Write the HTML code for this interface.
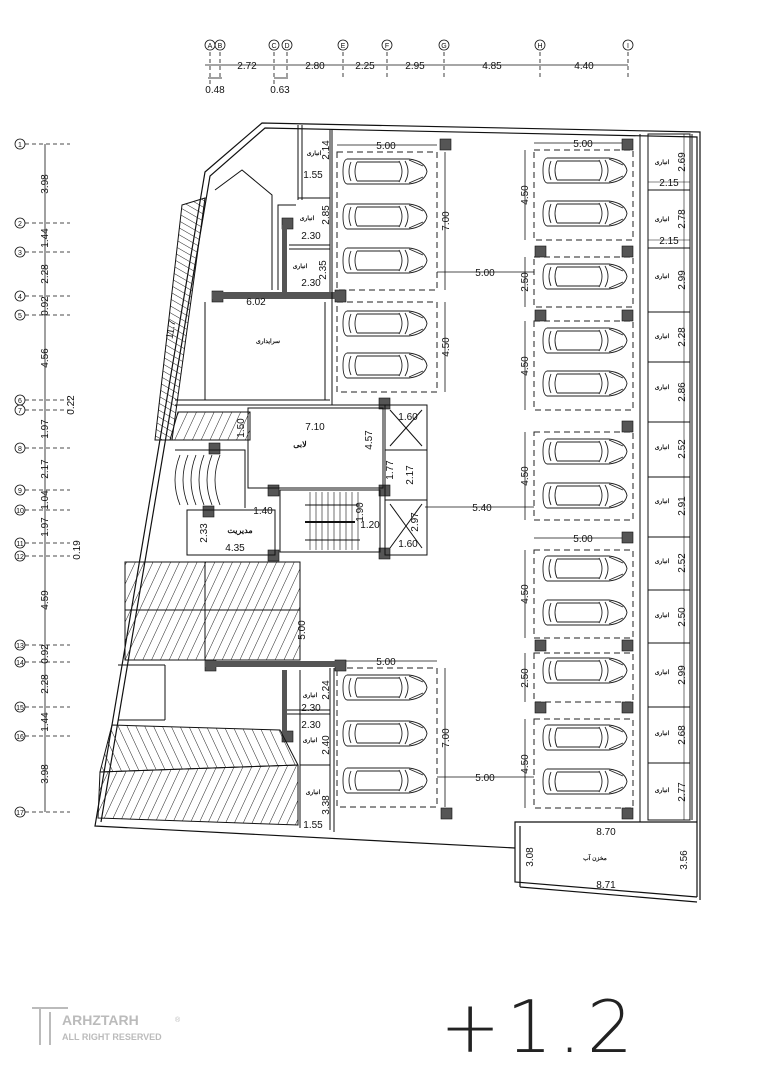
<!DOCTYPE html>
<html><head><meta charset="utf-8"><style>
html,body{margin:0;padding:0;background:#fff;}
svg{display:block;font-family:"Liberation Sans",sans-serif;}
.t{font-size:10px;fill:#111;}
.s{font-size:6px;fill:#111;font-family:"Liberation Sans","Noto Sans CJK SC",sans-serif;font-weight:bold;}
</style></head><body>
<svg width="764" height="1080" viewBox="0 0 764 1080" xmlns="http://www.w3.org/2000/svg">
<defs>
<g id="car" fill="none" stroke="#222" stroke-width="0.9">
<path d="M4,1 H66 Q82,3 84,13.5 Q82,24 66,26 H4 Q0,25 0,13.5 Q0,2 4,1Z"/>
<path d="M8,4 Q4,13.5 8,23 M14,4 Q10,13.5 14,23 M56,3 Q62,13.5 56,24 M62,3 Q68,13.5 62,24 M14,4 H56 M14,23 H56 M66,2 L80,8 M66,25 L80,19"/>
</g>
<pattern id="h1" width="8" height="8" patternUnits="userSpaceOnUse" patternTransform="rotate(25)"><line x1="0" y1="0" x2="0" y2="8" stroke="#222" stroke-width="1"/></pattern>
<pattern id="h2" width="8" height="8" patternUnits="userSpaceOnUse" patternTransform="rotate(-25)"><line x1="0" y1="0" x2="0" y2="8" stroke="#222" stroke-width="1"/></pattern>
<pattern id="h3" width="6" height="6" patternUnits="userSpaceOnUse" patternTransform="rotate(-60)"><line x1="0" y1="0" x2="0" y2="6" stroke="#222" stroke-width="1"/></pattern>
</defs>

<!-- top axes -->
<g stroke="#111" stroke-width="0.8" fill="none">
<line x1="205" y1="65" x2="628" y2="65"/>
<line x1="208" y1="78" x2="222" y2="78"/><line x1="274" y1="78" x2="288" y2="78"/>
<g stroke-dasharray="4,3">
<line x1="210" y1="52" x2="210" y2="85"/><line x1="220" y1="52" x2="220" y2="80"/>
<line x1="274" y1="52" x2="274" y2="85"/><line x1="287" y1="52" x2="287" y2="80"/>
<line x1="343" y1="52" x2="343" y2="80"/><line x1="387" y1="52" x2="387" y2="80"/>
<line x1="444" y1="52" x2="444" y2="80"/><line x1="540" y1="52" x2="540" y2="80"/>
<line x1="628" y1="52" x2="628" y2="80"/>
</g>
<circle cx="210" cy="45" r="5"/><circle cx="220" cy="45" r="5"/><circle cx="274" cy="45" r="5"/><circle cx="287" cy="45" r="5"/>
<circle cx="343" cy="45" r="5"/><circle cx="387" cy="45" r="5"/><circle cx="444" cy="45" r="5"/><circle cx="540" cy="45" r="5"/><circle cx="628" cy="45" r="5"/>
</g>
<g class="t" text-anchor="middle" style="font-size:7px">
<text x="210" y="48">A</text><text x="220" y="48">B</text><text x="274" y="48">C</text><text x="287" y="48">D</text><text x="343" y="48">E</text><text x="387" y="48">F</text><text x="444" y="48">G</text><text x="540" y="48">H</text><text x="628" y="48">I</text>
</g>
<g class="t" text-anchor="middle">
<text x="247" y="69">2.72</text><text x="315" y="69">2.80</text><text x="365" y="69">2.25</text><text x="415" y="69">2.95</text><text x="492" y="69">4.85</text><text x="584" y="69">4.40</text>
<text x="215" y="93">0.48</text><text x="280" y="93">0.63</text>
</g>

<!-- left axes -->
<g stroke="#111" stroke-width="0.8" fill="none">
<line x1="45" y1="144" x2="45" y2="812"/>
<g stroke-dasharray="4,3">
<line x1="25" y1="144" x2="70" y2="144"/><line x1="25" y1="223" x2="70" y2="223"/><line x1="25" y1="252" x2="70" y2="252"/><line x1="25" y1="296" x2="70" y2="296"/><line x1="25" y1="315" x2="70" y2="315"/><line x1="25" y1="400" x2="70" y2="400"/><line x1="25" y1="410" x2="70" y2="410"/><line x1="25" y1="448" x2="70" y2="448"/><line x1="25" y1="490" x2="70" y2="490"/><line x1="25" y1="510" x2="70" y2="510"/><line x1="25" y1="543" x2="70" y2="543"/><line x1="25" y1="556" x2="70" y2="556"/><line x1="25" y1="645" x2="70" y2="645"/><line x1="25" y1="662" x2="70" y2="662"/><line x1="25" y1="707" x2="70" y2="707"/><line x1="25" y1="736" x2="70" y2="736"/><line x1="25" y1="812" x2="70" y2="812"/>
</g>
<circle cx="20" cy="144" r="5"/><circle cx="20" cy="223" r="5"/><circle cx="20" cy="252" r="5"/><circle cx="20" cy="296" r="5"/><circle cx="20" cy="315" r="5"/><circle cx="20" cy="400" r="5"/><circle cx="20" cy="410" r="5"/><circle cx="20" cy="448" r="5"/><circle cx="20" cy="490" r="5"/><circle cx="20" cy="510" r="5"/><circle cx="20" cy="543" r="5"/><circle cx="20" cy="556" r="5"/><circle cx="20" cy="645" r="5"/><circle cx="20" cy="662" r="5"/><circle cx="20" cy="707" r="5"/><circle cx="20" cy="736" r="5"/><circle cx="20" cy="812" r="5"/>
</g>
<g class="t" text-anchor="middle" style="font-size:7px">
<text x="20" y="147">1</text><text x="20" y="226">2</text><text x="20" y="255">3</text><text x="20" y="299">4</text><text x="20" y="318">5</text><text x="20" y="403">6</text><text x="20" y="413">7</text><text x="20" y="451">8</text><text x="20" y="493">9</text><text x="20" y="513">10</text><text x="20" y="546">11</text><text x="20" y="559">12</text><text x="20" y="648">13</text><text x="20" y="665">14</text><text x="20" y="710">15</text><text x="20" y="739">16</text><text x="20" y="815">17</text>
</g>
<g class="t" text-anchor="middle">
<text transform="translate(48,184) rotate(-90)">3.98</text>
<text transform="translate(48,238) rotate(-90)">1.44</text>
<text transform="translate(48,274) rotate(-90)">2.28</text>
<text transform="translate(48,306) rotate(-90)">0.92</text>
<text transform="translate(48,358) rotate(-90)">4.56</text>
<text transform="translate(74,405) rotate(-90)">0.22</text>
<text transform="translate(48,429) rotate(-90)">1.97</text>
<text transform="translate(48,469) rotate(-90)">2.17</text>
<text transform="translate(48,500) rotate(-90)">1.04</text>
<text transform="translate(48,527) rotate(-90)">1.97</text>
<text transform="translate(80,550) rotate(-90)">0.19</text>
<text transform="translate(48,600) rotate(-90)">4.59</text>
<text transform="translate(48,654) rotate(-90)">0.92</text>
<text transform="translate(48,684) rotate(-90)">2.28</text>
<text transform="translate(48,722) rotate(-90)">1.44</text>
<text transform="translate(48,774) rotate(-90)">3.98</text>
</g>

<!-- building outline -->
<g fill="none" stroke="#111" stroke-width="1.2">
<polyline points="515,848 95,826 205,172 262,123 700,132 700,900"/>
<polyline points="101,822 210,176 265,128 697,137 697,897"/>
<polyline points="697,897 515,882 515,822 697,822"/>
<polyline points="520,887 697,902"/>
<line x1="520" y1="826" x2="520" y2="887"/>
</g>

<!-- right storage strip -->
<g fill="none" stroke="#111" stroke-width="1">
<rect x="648" y="134" width="42" height="686"/>
<line x1="692" y1="134" x2="692" y2="820"/>
<line x1="640" y1="134" x2="640" y2="822"/>
<line x1="648" y1="190" x2="690" y2="190"/><line x1="648" y1="248" x2="690" y2="248"/><line x1="648" y1="312" x2="690" y2="312"/><line x1="648" y1="362" x2="690" y2="362"/><line x1="648" y1="422" x2="690" y2="422"/><line x1="648" y1="477" x2="690" y2="477"/><line x1="648" y1="537" x2="690" y2="537"/><line x1="648" y1="590" x2="690" y2="590"/><line x1="648" y1="643" x2="690" y2="643"/><line x1="648" y1="707" x2="690" y2="707"/><line x1="648" y1="763" x2="690" y2="763"/>
<line x1="684" y1="134" x2="684" y2="820" stroke-width="0.6"/>
<line x1="648" y1="182" x2="690" y2="182" stroke-width="0.6"/><line x1="648" y1="240" x2="690" y2="240" stroke-width="0.6"/>
</g>
<g class="s" text-anchor="middle">
<text x="662" y="164">انباری</text><text x="662" y="221">انباری</text><text x="662" y="278">انباری</text><text x="662" y="338">انباری</text><text x="662" y="389">انباری</text><text x="662" y="449">انباری</text><text x="662" y="503">انباری</text><text x="662" y="563">انباری</text><text x="662" y="617">انباری</text><text x="662" y="674">انباری</text><text x="662" y="735">انباری</text><text x="662" y="792">انباری</text>
</g>
<g class="t" text-anchor="middle">
<text transform="translate(685,162) rotate(-90)">2.69</text>
<text transform="translate(685,219) rotate(-90)">2.78</text>
<text transform="translate(685,280) rotate(-90)">2.99</text>
<text transform="translate(685,337) rotate(-90)">2.28</text>
<text transform="translate(685,392) rotate(-90)">2.86</text>
<text transform="translate(685,449) rotate(-90)">2.52</text>
<text transform="translate(685,506) rotate(-90)">2.91</text>
<text transform="translate(685,563) rotate(-90)">2.52</text>
<text transform="translate(685,617) rotate(-90)">2.50</text>
<text transform="translate(685,675) rotate(-90)">2.99</text>
<text transform="translate(685,735) rotate(-90)">2.68</text>
<text transform="translate(685,792) rotate(-90)">2.77</text>
<text x="669" y="186">2.15</text><text x="669" y="244">2.15</text>
<text x="606" y="835">8.70</text><text x="606" y="888">8.71</text>
<text transform="translate(533,857) rotate(-90)">3.08</text>
<text transform="translate(687,860) rotate(-90)">3.56</text>
</g>
<text class="s" x="595" y="860" text-anchor="middle">مخزن آب</text>

<!-- parking dashed boxes -->
<g fill="none" stroke="#222" stroke-width="1" stroke-dasharray="6,4">
<rect x="337" y="152" width="100" height="138"/><rect x="337" y="302" width="100" height="90"/><rect x="337" y="668" width="100" height="139"/>
<rect x="534" y="150" width="99" height="90"/><rect x="534" y="257" width="99" height="50"/><rect x="534" y="321" width="99" height="89"/><rect x="534" y="432" width="99" height="88"/><rect x="534" y="550" width="99" height="88"/><rect x="534" y="653" width="99" height="49"/><rect x="534" y="719" width="99" height="89"/>
</g>
<!-- cars -->
<use href="#car" x="343" y="158"/><use href="#car" x="343" y="203"/><use href="#car" x="343" y="247"/><use href="#car" x="343" y="310"/><use href="#car" x="343" y="352"/>
<use href="#car" x="343" y="674"/><use href="#car" x="343" y="720"/><use href="#car" x="343" y="767"/>
<use href="#car" x="543" y="157"/><use href="#car" x="543" y="200"/><use href="#car" x="543" y="263"/><use href="#car" x="543" y="327"/><use href="#car" x="543" y="370"/><use href="#car" x="543" y="438"/><use href="#car" x="543" y="482"/><use href="#car" x="543" y="555"/><use href="#car" x="543" y="599"/><use href="#car" x="543" y="657"/><use href="#car" x="543" y="724"/><use href="#car" x="543" y="768"/>

<!-- parking dims -->
<g stroke="#111" stroke-width="0.8" fill="none">
<line x1="337" y1="145" x2="437" y2="145"/><line x1="534" y1="143" x2="633" y2="143"/><line x1="534" y1="538" x2="633" y2="538"/><line x1="337" y1="661" x2="437" y2="661"/>
<line x1="445" y1="152" x2="445" y2="290"/><line x1="445" y1="302" x2="445" y2="392"/><line x1="445" y1="668" x2="445" y2="807"/>
<line x1="437" y1="272" x2="534" y2="272"/><line x1="437" y1="777" x2="534" y2="777"/><line x1="425" y1="507" x2="534" y2="507"/>
<line x1="525" y1="150" x2="525" y2="240"/><line x1="525" y1="257" x2="525" y2="307"/><line x1="525" y1="321" x2="525" y2="410"/><line x1="525" y1="432" x2="525" y2="520"/><line x1="525" y1="550" x2="525" y2="638"/><line x1="525" y1="653" x2="525" y2="702"/><line x1="525" y1="719" x2="525" y2="808"/>
</g>
<g class="t" text-anchor="middle">
<text x="386" y="149">5.00</text><text x="583" y="147">5.00</text><text x="583" y="542">5.00</text><text x="386" y="665">5.00</text>
<text x="485" y="276">5.00</text><text x="485" y="781">5.00</text><text x="482" y="511">5.40</text>
<text transform="translate(449,221) rotate(-90)">7.00</text><text transform="translate(449,347) rotate(-90)">4.50</text><text transform="translate(449,738) rotate(-90)">7.00</text>
<text transform="translate(528,195) rotate(-90)">4.50</text><text transform="translate(528,282) rotate(-90)">2.50</text><text transform="translate(528,366) rotate(-90)">4.50</text><text transform="translate(528,476) rotate(-90)">4.50</text><text transform="translate(528,594) rotate(-90)">4.50</text><text transform="translate(528,678) rotate(-90)">2.50</text><text transform="translate(528,764) rotate(-90)">4.50</text>
</g>

<!-- columns -->
<g fill="#555" stroke="#111" stroke-width="0.6">
<rect x="440" y="139" width="11" height="11"/><rect x="622" y="139" width="11" height="11"/>
<rect x="535" y="246" width="11" height="11"/><rect x="622" y="246" width="11" height="11"/>
<rect x="535" y="310" width="11" height="11"/><rect x="622" y="310" width="11" height="11"/>
<rect x="622" y="421" width="11" height="11"/><rect x="622" y="532" width="11" height="11"/>
<rect x="535" y="640" width="11" height="11"/><rect x="622" y="640" width="11" height="11"/>
<rect x="535" y="702" width="11" height="11"/><rect x="622" y="702" width="11" height="11"/>
<rect x="441" y="808" width="11" height="11"/><rect x="622" y="808" width="11" height="11"/>
<rect x="335" y="290" width="11" height="12"/><rect x="212" y="291" width="11" height="11"/>
<rect x="282" y="218" width="11" height="11"/><rect x="379" y="398" width="11" height="11"/>
<rect x="379" y="485" width="11" height="11"/><rect x="379" y="548" width="11" height="11"/>
<rect x="209" y="443" width="11" height="11"/><rect x="268" y="485" width="11" height="11"/>
<rect x="268" y="550" width="11" height="11"/><rect x="203" y="506" width="11" height="11"/>
<rect x="205" y="660" width="11" height="11"/><rect x="335" y="660" width="11" height="11"/>
<rect x="282" y="731" width="11" height="11"/>
</g>
<!-- dark walls -->
<g fill="#555">
<rect x="212" y="292" width="130" height="7"/>
<rect x="282" y="225" width="5" height="70"/>
<rect x="205" y="661" width="135" height="6"/>
<rect x="282" y="670" width="5" height="65"/>
</g>

<!-- interior thin walls -->
<g fill="none" stroke="#111" stroke-width="1">
<line x1="332" y1="130" x2="332" y2="405"/><line x1="330" y1="130" x2="330" y2="292"/>
<line x1="298" y1="125" x2="298" y2="200"/><line x1="302" y1="125" x2="302" y2="200"/>
<line x1="298" y1="198" x2="330" y2="198"/><line x1="289" y1="245" x2="330" y2="245"/><line x1="289" y1="249" x2="330" y2="249"/>
<polyline points="272,290 272,195 242,170 215,190"/>
<polyline points="278,290 278,205 296,205"/>
<line x1="205" y1="302" x2="205" y2="400"/><line x1="325" y1="302" x2="325" y2="400"/>
<line x1="175" y1="405" x2="390" y2="405"/><line x1="175" y1="400" x2="330" y2="400"/>
<rect x="248" y="408" width="135" height="80"/>
<rect x="280" y="490" width="100" height="62"/>
<rect x="187" y="510" width="88" height="45"/>
<polyline points="175,450 245,450 245,508"/>
<rect x="385" y="405" width="42" height="150"/>
<line x1="385" y1="450" x2="427" y2="450"/><line x1="385" y1="500" x2="427" y2="500"/>
<line x1="390" y1="410" x2="422" y2="446"/><line x1="422" y1="410" x2="390" y2="446"/>
<line x1="390" y1="504" x2="422" y2="548"/><line x1="422" y1="504" x2="390" y2="548"/>
<line x1="305" y1="505" x2="360" y2="505"/><line x1="305" y1="540" x2="360" y2="540"/>
<line x1="305" y1="522" x2="355" y2="522" stroke-width="2"/>
<line x1="165" y1="665" x2="165" y2="720"/><line x1="118" y1="665" x2="165" y2="665"/><line x1="118" y1="720" x2="165" y2="720"/>
<line x1="300" y1="670" x2="300" y2="828"/><line x1="330" y1="668" x2="330" y2="830"/><line x1="334" y1="668" x2="334" y2="832"/>
<line x1="287" y1="710" x2="330" y2="710"/><line x1="287" y1="714" x2="330" y2="714"/><line x1="300" y1="765" x2="330" y2="765"/>
</g>
<!-- stairs lines -->
<g stroke="#111" stroke-width="0.6">
<line x1="310" y1="492" x2="310" y2="550"/><line x1="316" y1="492" x2="316" y2="550"/><line x1="322" y1="492" x2="322" y2="550"/><line x1="328" y1="492" x2="328" y2="550"/><line x1="334" y1="492" x2="334" y2="550"/><line x1="340" y1="492" x2="340" y2="550"/><line x1="346" y1="492" x2="346" y2="550"/><line x1="352" y1="492" x2="352" y2="550"/><line x1="358" y1="492" x2="358" y2="550"/>
</g>
<g fill="none" stroke="#111" stroke-width="0.8">
<path d="M180,455 Q170,480 180,505 M188,455 Q178,480 188,505 M196,455 Q186,480 196,505 M204,455 Q194,480 204,505 M212,455 Q202,480 212,505 M220,455 Q210,480 220,505"/>
</g>

<!-- ramps -->
<polygon points="182,205 205,198 172,440 155,440" fill="url(#h3)" stroke="#111"/>
<polygon points="178,412 250,412 250,440 170,440" fill="url(#h1)" stroke="#111"/>
<rect x="125" y="562" width="80" height="48" fill="url(#h1)" stroke="#111"/>
<rect x="125" y="610" width="80" height="50" fill="url(#h1)" stroke="#111"/>
<rect x="205" y="562" width="95" height="48" fill="url(#h1)" stroke="#111"/>
<rect x="205" y="610" width="95" height="50" fill="url(#h1)" stroke="#111"/>
<polygon points="112,725 280,730 298,765 100,772" fill="url(#h2)" stroke="#111"/>
<polygon points="100,772 298,765 298,825 98,818" fill="url(#h1)" stroke="#111"/>

<!-- interior labels -->
<g class="t" text-anchor="middle">
<text x="256" y="305">6.02</text><text x="315" y="430">7.10</text>
<text transform="translate(372,440) rotate(-90)">4.57</text>
<text x="408" y="420">1.60</text><text x="408" y="547">1.60</text>
<text transform="translate(393,470) rotate(-90)">1.77</text><text transform="translate(413,475) rotate(-90)">2.17</text>
<text transform="translate(418,522) rotate(-90)">2.97</text>
<text transform="translate(363,512) rotate(-90)">1.90</text>
<text x="370" y="528">1.20</text>
<text x="263" y="514">1.40</text><text x="235" y="551">4.35</text>
<text transform="translate(207,533) rotate(-90)">2.33</text>
<text transform="translate(244,428) rotate(-90)">1.50</text>
<text transform="translate(305,630) rotate(-90)">5.00</text>
<text transform="translate(174,330) rotate(-80)">11.7</text>
<text x="313" y="178">1.55</text><text x="313" y="828">1.55</text>
<text x="311" y="239">2.30</text><text x="311" y="286">2.30</text>
<text x="311" y="711">2.30</text><text x="311" y="728">2.30</text>
<text transform="translate(329,215) rotate(-90)">2.85</text>
<text transform="translate(326,270) rotate(-90)">2.35</text>
<text transform="translate(329,150) rotate(-90)">2.14</text>
<text transform="translate(329,690) rotate(-90)">2.24</text>
<text transform="translate(329,745) rotate(-90)">2.40</text>
<text transform="translate(329,805) rotate(-90)">3.38</text>
</g>
<g class="s" text-anchor="middle">
<text x="314" y="155">انباری</text><text x="307" y="220">انباری</text><text x="300" y="268">انباری</text>
<text x="268" y="343">سرایداری</text>
<text x="300" y="447" style="font-size:8px">لابی</text>
<text x="240" y="533" style="font-size:8px">مدیریت</text>
<text x="310" y="697">انباری</text><text x="310" y="742">انباری</text><text x="313" y="794">انباری</text>
</g>

<!-- logo -->
<g fill="none" stroke="#bbb" stroke-width="2">
<path d="M32,1008 H68 M40,1008 V1045 M50,1012 V1045"/>
</g>
<text x="62" y="1025" style="font-size:14px;fill:#bbb;font-weight:bold">ARHZTARH</text>
<text x="175" y="1022" style="font-size:7px;fill:#bbb">®</text>
<text x="62" y="1040" style="font-size:9px;fill:#bbb;font-weight:bold">ALL RIGHT RESERVED</text>

<text x="440" y="1052" style="font-family:'DejaVu Sans','Liberation Sans',sans-serif;font-size:72px;fill:#222;font-weight:200;letter-spacing:6px">+1.2</text>
</svg>
</body></html>
